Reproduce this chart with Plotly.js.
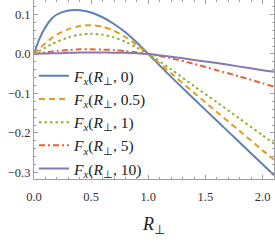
<!DOCTYPE html>
<html>
<head>
<meta charset="utf-8">
<script src="https://cdn.plot.ly/plotly-3.0.1.min.js"></script>
<style>html,body{margin:0;padding:0;background:#fff;}#chart{width:275px;height:243px;}</style>
</head>
<body>
<div id="chart"></div>
<script>
const rPerp = [0,0.05,0.1,0.15,0.2,0.3,0.4,0.5,0.6,0.7,0.8,0.9,1.0,1.2,1.4,1.6,1.8,2.0,2.1];
const fx0   = [0,0.040,0.068,0.088,0.100,0.110,0.111,0.105,0.093,0.076,0.055,0.029,0,-0.058,-0.114,-0.169,-0.224,-0.279,-0.307];
const fx05  = [0,0.014,0.027,0.039,0.049,0.063,0.071,0.073,0.069,0.059,0.043,0.023,0,-0.049,-0.098,-0.147,-0.195,-0.244,-0.268];
const fx1   = [0,0.008,0.016,0.024,0.031,0.042,0.049,0.051,0.049,0.042,0.031,0.016,0,-0.039,-0.081,-0.122,-0.164,-0.206,-0.227];
const fx5   = [0,0.002,0.004,0.006,0.008,0.010,0.012,0.012,0.011,0.010,0.007,0.004,0,-0.011,-0.025,-0.041,-0.057,-0.074,-0.083];
const fx10  = [0,0.001,0.001,0.002,0.002,0.003,0.004,0.004,0.004,0.003,0.003,0.002,0,-0.007,-0.015,-0.023,-0.032,-0.041,-0.045];
const seriesNames = ["0","0.5","1","5","10"];
const seriesValues = [fx0, fx05, fx1, fx5, fx10];
const colors = ["#5E81B5","#E19C24","#8FB032","#EB6235","#8778B3"];
const dashes = ["solid","6px,4px","2.5px,3px","6px,3px,2px,3px","solid"];

const traces = seriesValues.map((v,i)=>({
  x: rPerp, y: v, type:'scatter', mode:'lines',
  line:{color:colors[i], width:2, dash:dashes[i], shape:'spline', smoothing:0.8},
  name:'<i>F<sub>x</sub></i>(<i>R</i><sub>⊥</sub>, '+seriesNames[i]+')'
}));

const axisCommon = {
  showline:true, mirror:'allticks', linecolor:'#a0a0a0', linewidth:1,
  ticks:'inside', ticklen:4, tickcolor:'#a0a0a0', tickwidth:1,
  showgrid:false, zeroline:false,
  tickfont:{family:'Liberation Serif, serif', size:12.5, color:'#333'}
};

const layout = {
  width:275, height:243,
  margin:{l:34, r:1, t:0, b:64},
  paper_bgcolor:'#fff', plot_bgcolor:'#fff',
  showlegend:true,
  legend:{x:0.0, xanchor:'left', y:-0.01, yanchor:'bottom', bgcolor:'rgba(0,0,0,0)',
    font:{family:'Liberation Serif, serif', size:15.5, color:'#222'}, tracegroupgap:0},
  xaxis: Object.assign({}, axisCommon, {
    range:[0,2.1], tickvals:[0,0.5,1,1.5,2], ticktext:['0.0','0.5','1.0','1.5','2.0'],
    ticklabelstandoff:6,
    minor:{dtick:0.1, tick0:0, ticks:'inside', ticklen:2, tickcolor:'#a0a0a0'},
    title:{text:'<i>R</i><sub>⊥</sub>', font:{family:'Liberation Serif, serif', size:18, color:'#222'}, standoff:14}
  }),
  yaxis: Object.assign({}, axisCommon, {
    range:[-0.3165,0.1367], tickvals:[-0.3,-0.2,-0.1,0,0.1], ticktext:['−0.3','−0.2','−0.1','0.0','0.1'],
    minor:{dtick:0.02, tick0:0, ticks:'inside', ticklen:2, tickcolor:'#a0a0a0'}
  })
};
Plotly.newPlot('chart', traces, layout, {displayModeBar:false, staticPlot:true});
</script>
</body>
</html>
